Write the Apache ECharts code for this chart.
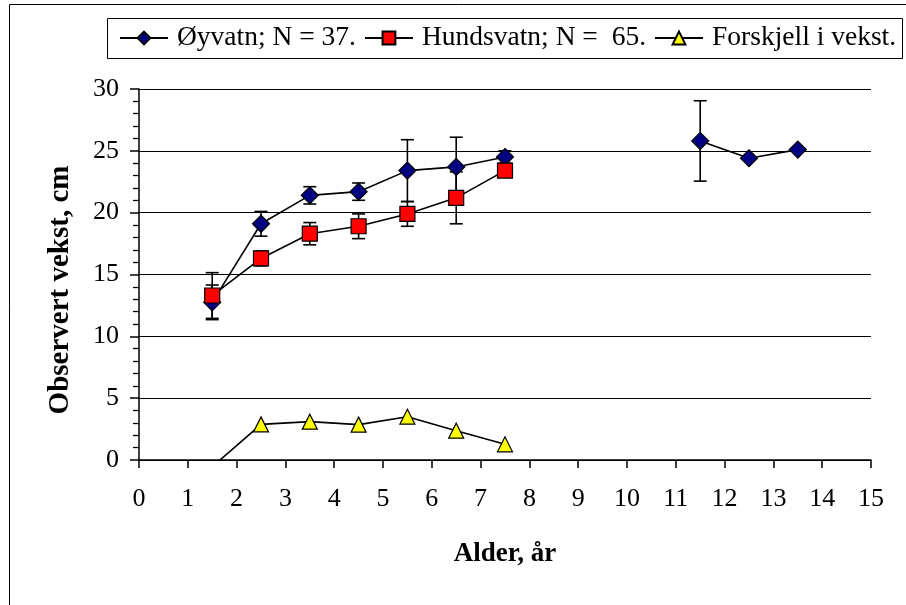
<!DOCTYPE html>
<html>
<head>
<meta charset="utf-8">
<script src="https://cdn.jsdelivr.net/npm/echarts@6/dist/echarts.min.js"></script>
<style>
html,body{margin:0;padding:0;background:#fff;}
#c{width:906px;height:605px;}
</style>
</head>
<body>
<div id="c"></div>
<script>
// ---- data ----
const ages = [1.5, 2.5, 3.5, 4.5, 5.5, 6.5, 7.5, 8.5, 9.5, 10.5, 11.5, 12.5, 13.5];
const oyvatn = [12.75, 19.1, 21.4, 21.7, 23.4, 23.7, 24.5, null, null, null, 25.8, 24.4, 25.1];
const oyvatnErr = [1.4, 1.0, 0.7, 0.7, 2.5, 2.4, 0.5, null, null, null, 3.25, null, null];
const hundsvatn = [13.3, 16.3, 18.3, 18.9, 19.9, 21.2, 23.4];
const hundsvatnErr = [1.85, 0.6, 0.9, 1.0, 1.0, 2.1, 0.3];
const forskjell = [-0.55, 2.88, 3.1, 2.86, 3.5, 2.37, 1.27];
const xTicks = [0, 15, 1];
const yTicks = [0, 30, 5];
const names = ['Øyvatn; N = 37.', 'Hundsvatn; N =  65.', 'Forskjell i vekst.'];
const xTitle = 'Alder, år';
const yTitle = 'Observert vekst, cm';

const FONT = '"Liberation Serif", "Times New Roman", serif';

function pairs(xs, ys) {
  return ys.map((v, i) => [xs[i], v == null ? '-' : v]);
}
function errData(xs, ys, es) {
  const out = [];
  ys.forEach((v, i) => {
    if (v != null && es[i] != null) out.push([xs[i], v - es[i], v + es[i]]);
  });
  return out;
}
function errRender(params, api) {
  const x = api.value(0);
  const lo = api.coord([x, api.value(1)]);
  const hi = api.coord([x, api.value(2)]);
  const w = 6.5;
  const st = { stroke: '#000', lineWidth: 1.6 };
  return {
    type: 'group',
    children: [
      { type: 'line', shape: { x1: lo[0], y1: lo[1], x2: hi[0], y2: hi[1] }, style: st },
      { type: 'line', shape: { x1: lo[0] - w, y1: lo[1], x2: lo[0] + w, y2: lo[1] }, style: st },
      { type: 'line', shape: { x1: hi[0] - w, y1: hi[1], x2: hi[0] + w, y2: hi[1] }, style: st }
    ]
  };
}

const chart = echarts.init(document.getElementById('c'), null, { renderer: 'canvas' });
chart.setOption({
  animation: false,
  backgroundColor: '#fff',
  textStyle: { fontFamily: FONT, color: '#000' },
  graphic: [
    { type: 'rect', shape: { x: 9.5, y: 4.5, width: 900, height: 610 }, style: { fill: 'none', stroke: '#000', lineWidth: 1 }, silent: true, z: -10 },
    { type: 'rect', shape: { x: 107.5, y: 18.5, width: 795, height: 40 }, style: { fill: '#fff', stroke: '#000', lineWidth: 1 }, silent: true, z: -5 },
    { type: 'text', x: 61, y: 290, rotation: Math.PI / 2, silent: true,
      style: { text: yTitle, fontFamily: FONT, fontSize: 29, fontWeight: 'bold', fill: '#000', align: 'center', verticalAlign: 'middle' } }
  ],
  legend: {
    left: 119, top: 24,
    itemWidth: 48, itemHeight: 16, itemGap: 8,
    padding: 0,
    textStyle: { fontFamily: FONT, fontSize: 27.5, color: '#000', padding: [0, 0, 0, 4] },
    data: names
  },
  grid: { left: 139, right: 35, top: 89, bottom: 145 },
  xAxis: {
    type: 'value', min: xTicks[0], max: xTicks[1], interval: xTicks[2],
    name: xTitle, nameLocation: 'middle', nameGap: 81,
    nameTextStyle: { fontFamily: FONT, fontSize: 27, fontWeight: 'bold', color: '#000' },
    axisLine: { show: true, onZero: false, lineStyle: { color: '#000', width: 1.5 } },
    axisTick: { show: true, inside: false, length: 8, lineStyle: { color: '#000', width: 1.5 } },
    axisLabel: { fontFamily: FONT, fontSize: 26, color: '#000', margin: 26 },
    splitLine: { show: false }
  },
  yAxis: {
    type: 'value', min: yTicks[0], max: yTicks[1], interval: yTicks[2],
    axisLine: { show: true, lineStyle: { color: '#000', width: 1.5 } },
    axisTick: { show: true, inside: false, length: 9, lineStyle: { color: '#000', width: 1.5 } },
    minorTick: { show: true, splitNumber: 5, length: 6, lineStyle: { color: '#000', width: 1.3 } },
    axisLabel: { fontFamily: FONT, fontSize: 26, color: '#000', margin: 20 },
    splitLine: { show: true, lineStyle: { color: '#000', width: 1 } }
  },
  series: [
    {
      type: 'custom', name: 'errO', renderItem: errRender, data: errData(ages, oyvatn, oyvatnErr),
      encode: { x: 0, y: [1, 2] }, z: 1, silent: true, clip: true
    },
    {
      type: 'custom', name: 'errH', renderItem: errRender, data: errData(ages, hundsvatn, hundsvatnErr),
      encode: { x: 0, y: [1, 2] }, z: 1, silent: true, clip: true
    },
    {
      name: names[0], type: 'line', data: pairs(ages, oyvatn), z: 3,
      symbol: 'diamond', symbolSize: 17, showAllSymbol: true,
      lineStyle: { color: '#000', width: 1.6 },
      itemStyle: { color: '#000080', borderColor: '#000', borderWidth: 1.2 },
      connectNulls: false, clip: true
    },
    {
      name: names[1], type: 'line', data: pairs(ages, hundsvatn), z: 4,
      symbol: 'rect', symbolSize: 15, showAllSymbol: true,
      lineStyle: { color: '#000', width: 1.6 },
      itemStyle: { color: '#FF0000', borderColor: '#000', borderWidth: 1.2 },
      clip: true
    },
    {
      name: names[2], type: 'line', data: pairs(ages, forskjell), z: 5,
      symbol: 'triangle', symbolSize: 15, showAllSymbol: true,
      lineStyle: { color: '#000', width: 1.6 },
      itemStyle: { color: '#FFFF00', borderColor: '#000', borderWidth: 1.2 },
      clip: true
    }
  ]
});
</script>
</body>
</html>
